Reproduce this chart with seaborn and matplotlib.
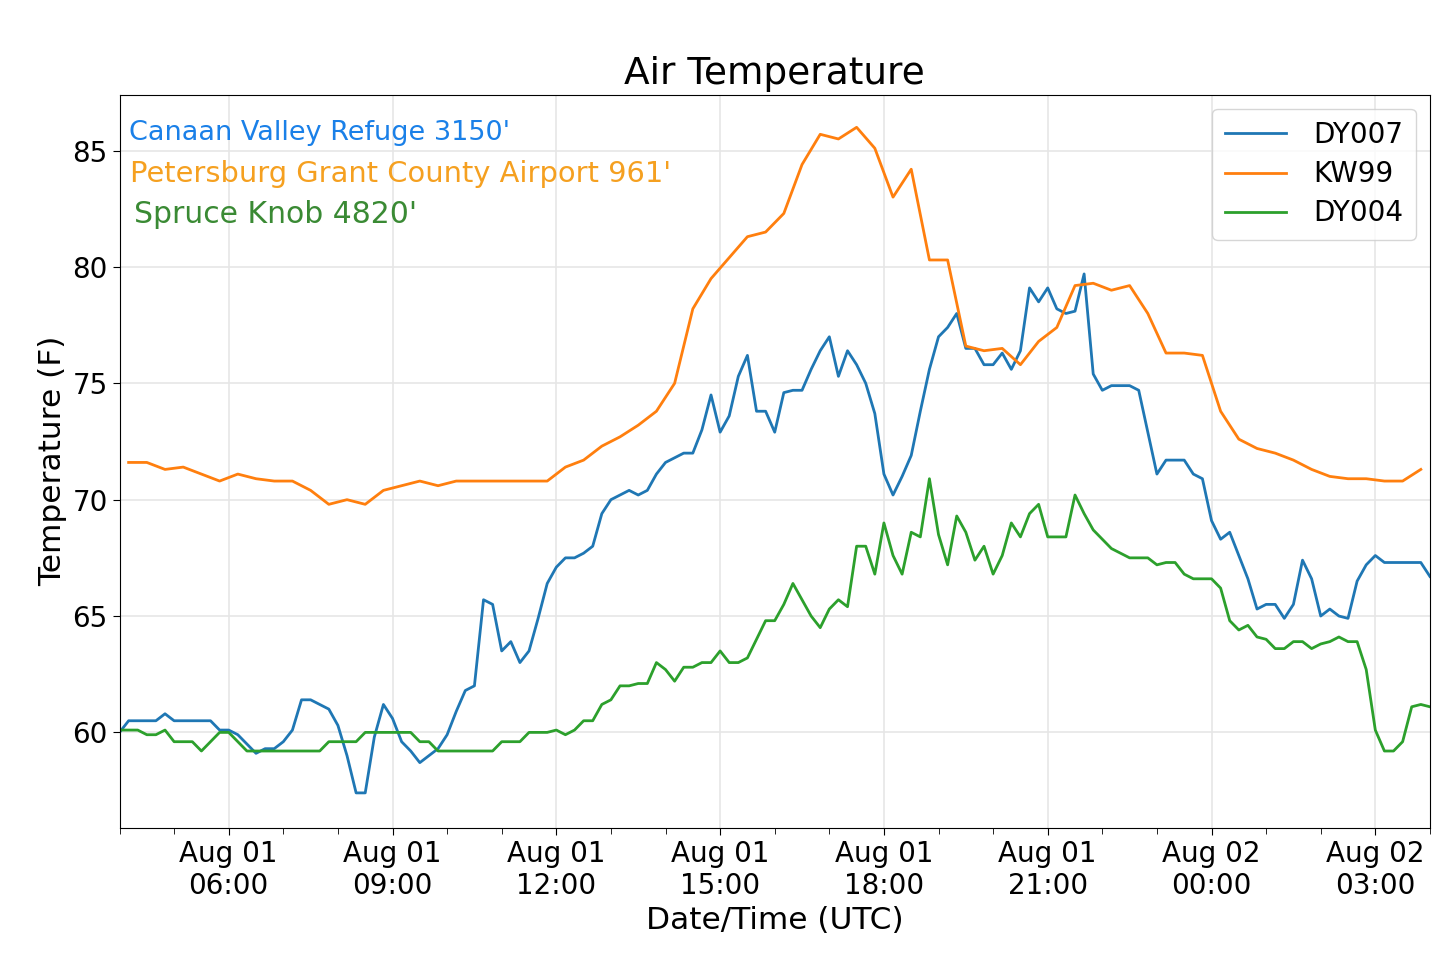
import numpy as np
import pandas as pd
import matplotlib
matplotlib.use("Agg")
import matplotlib.pyplot as plt
import matplotlib.dates as mdates
import seaborn as sns

dy007 = [60.0,60.5,60.5,60.5,60.5,60.8,60.5,60.5,60.5,60.5,60.5,60.1,60.1,59.9,59.5,59.1,59.3,59.3,59.6,60.1,
         61.4,61.4,61.2,61.0,60.3,59.0,57.4,57.4,59.8,61.2,60.6,59.6,59.2,58.7,59.0,59.3,59.9,60.9,61.8,62.0,
         65.7,65.5,63.5,63.9,63.0,63.5,64.9,66.4,67.1,67.5,67.5,67.7,68.0,69.4,70.0,70.2,70.4,70.2,70.4,71.1,
         71.6,71.8,72.0,72.0,73.0,74.5,72.9,73.6,75.3,76.2,73.8,73.8,72.9,74.6,74.7,74.7,75.6,76.4,77.0,75.3,
         76.4,75.8,75.0,73.7,71.1,70.2,71.0,71.9,73.8,75.6,77.0,77.4,78.0,76.5,76.5,75.8,75.8,76.3,75.6,76.4,
         79.1,78.5,79.1,78.2,78.0,78.1,79.7,75.4,74.7,74.9,74.9,74.9,74.7,72.9,71.1,71.7,71.7,71.7,71.1,70.9,
         69.1,68.3,68.6,67.6,66.6,65.3,65.5,65.5,64.9,65.5,67.4,66.6,65.0,65.3,65.0,64.9,66.5,67.2,67.6,67.3,
         67.3,67.3,67.3,67.3,66.7]
dy004 = [60.1,60.1,60.1,59.9,59.9,60.1,59.6,59.6,59.6,59.2,59.6,60.0,60.0,59.6,59.2,59.2,59.2,59.2,59.2,59.2,
         59.2,59.2,59.2,59.6,59.6,59.6,59.6,60.0,60.0,60.0,60.0,60.0,60.0,59.6,59.6,59.2,59.2,59.2,59.2,59.2,
         59.2,59.2,59.6,59.6,59.6,60.0,60.0,60.0,60.1,59.9,60.1,60.5,60.5,61.2,61.4,62.0,62.0,62.1,62.1,63.0,
         62.7,62.2,62.8,62.8,63.0,63.0,63.5,63.0,63.0,63.2,64.0,64.8,64.8,65.5,66.4,65.7,65.0,64.5,65.3,65.7,
         65.4,68.0,68.0,66.8,69.0,67.6,66.8,68.6,68.4,70.9,68.5,67.2,69.3,68.6,67.4,68.0,66.8,67.6,69.0,68.4,
         69.4,69.8,68.4,68.4,68.4,70.2,69.4,68.7,68.3,67.9,67.7,67.5,67.5,67.5,67.2,67.3,67.3,66.8,66.6,66.6,
         66.6,66.2,64.8,64.4,64.6,64.1,64.0,63.6,63.6,63.9,63.9,63.6,63.8,63.9,64.1,63.9,63.9,62.7,60.1,59.2,
         59.2,59.6,61.1,61.2,61.1]
kw99 = [71.6,71.6,71.3,71.4,71.1,70.8,71.1,70.9,70.8,70.8,70.4,69.8,70.0,69.8,70.4,70.6,70.8,70.6,70.8,70.8,
        70.8,70.8,70.8,70.8,71.4,71.7,72.3,72.7,73.2,73.8,75.0,78.2,79.5,80.4,81.3,81.5,82.3,84.4,85.7,85.5,
        86.0,85.1,83.0,84.2,80.3,80.3,76.6,76.4,76.5,75.8,76.8,77.4,79.2,79.3,79.0,79.2,78.0,76.3,76.3,76.2,
        73.8,72.6,72.2,72.0,71.7,71.3,71.0,70.9,70.9,70.8,70.8,71.3]

t10 = pd.date_range("2018-08-01 04:00", periods=len(dy007), freq="10min")
t20 = pd.date_range("2018-08-01 04:10", periods=len(kw99), freq="20min")
df = pd.concat([
    pd.DataFrame({"time": t10, "temp": dy007, "station": "DY007"}),
    pd.DataFrame({"time": t20, "temp": kw99, "station": "KW99"}),
    pd.DataFrame({"time": t10, "temp": dy004, "station": "DY004"}),
])

plt.rcParams["font.family"] = ["DejaVu Sans"]
fig = plt.figure(figsize=(14.4, 9.57), dpi=100)
ax = fig.add_axes([0.083, 0.135, 0.910, 0.766])
sns.lineplot(data=df, x="time", y="temp", hue="station",
             palette=["#1f77b4", "#ff7f0e", "#2ca02c"], linewidth=2, ax=ax)
ax.set_xlim(pd.Timestamp("2018-08-01 04:00"), pd.Timestamp("2018-08-02 04:00"))
ax.set_ylim(55.9, 87.4)
ax.set_yticks([60, 65, 70, 75, 80, 85])
ax.xaxis.set_major_locator(mdates.HourLocator(byhour=[0, 3, 6, 9, 12, 15, 18, 21]))
ax.xaxis.set_minor_locator(mdates.HourLocator())
ax.xaxis.set_major_formatter(mdates.DateFormatter("%b %d\n%H:%M"))
ax.grid(True, which="major", color="#e6e6e6", linewidth=1.2)
ax.tick_params(labelsize=20, length=5)
ax.tick_params(which="minor", length=4)
for s in ax.spines.values():
    s.set_color("black")
ax.set_title("Air Temperature", fontsize=27, pad=8)
ax.set_xlabel("Date/Time (UTC)", fontsize=22.5)
ax.set_ylabel("Temperature (F)", fontsize=22.5)
ax.legend(loc="upper right", fontsize=20, handlelength=2.2, title=None, borderpad=0.45,
          labelspacing=0.4, handletextpad=1.0)
ax.text(0.007, 0.948, "Canaan Valley Refuge 3150'", color="#1a80e8", fontsize=19.5, transform=ax.transAxes, va="center")
ax.text(0.008, 0.892, "Petersburg Grant County Airport 961'", color="#f5a020", fontsize=20.8, transform=ax.transAxes, va="center")
ax.text(0.011, 0.836, "Spruce Knob 4820'", color="#3a8a34", fontsize=21.5, transform=ax.transAxes, va="center")
fig.savefig("out.png", dpi=100)
